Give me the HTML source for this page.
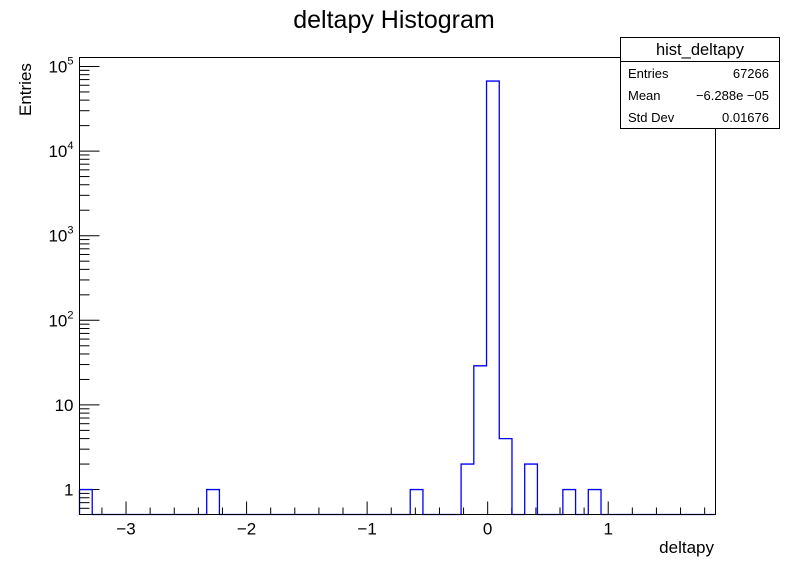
<!DOCTYPE html>
<html><head><meta charset="utf-8"><style>
html,body{margin:0;padding:0;background:#fff;}
svg{display:block;font-family:"Liberation Sans",sans-serif;}
</style></head><body>
<svg id="c" width="796" height="572" xmlns="http://www.w3.org/2000/svg">
<rect width="796" height="572" fill="#fff"/>
<text x="394" y="28" font-size="25" text-anchor="middle">deltapy Histogram</text>
<g id="ax"></g>
<g id="hist"></g>
<rect x="79.5" y="57.5" width="636" height="457" fill="none" stroke="#000" stroke-width="1"/>
<text x="714" y="553" font-size="17" text-anchor="end">deltapy</text>
<text transform="translate(31,116) rotate(-90)" font-size="17">Entries</text>
<g>
<rect x="620.5" y="37.5" width="159" height="91" fill="#fff" stroke="#000"/>
<line x1="620.5" y1="61.5" x2="779.5" y2="61.5" stroke="#000"/>
<text x="700" y="55" font-size="16.5" text-anchor="middle">hist_deltapy</text>
<text x="628" y="78" font-size="13">Entries</text>
<text x="769" y="78" font-size="13" text-anchor="end">67266</text>
<text x="628" y="100" font-size="13">Mean</text>
<text x="769" y="100" font-size="13" text-anchor="end">−6.288e −05</text>
<text x="628" y="122" font-size="13">Std Dev</text>
<text x="769" y="122" font-size="13" text-anchor="end">0.01676</text>
</g>
</svg>
<script>
const xMin=-3.386, xMax=1.89, nBins=50;
const filledBins=[0,10,26,30,31,32,33,35,38,40];
const binCounts=[1,1,1,2,29,67224,4,2,1,1];
const xTickValues=[-3,-2,-1,0,1];
const xTickLabels=["−3","−2","−1","0","1"];
const yDecades=[0,1,2,3,4,5];
const yTickLabels=["1","10","10²","10³","10⁴","10⁵"];

const L=79.5,R=715.5,T=57.5,B=514.5;
const yLo=Math.log10(0.507), yHi=Math.log10(10**5.106);
const sx=v=>L+(v-xMin)/(xMax-xMin)*(R-L);
const sy=v=>B-(Math.log10(v)-yLo)/(yHi-yLo)*(B-T);
const NS="http://www.w3.org/2000/svg";
const ax=document.getElementById('ax'), hg=document.getElementById('hist');
function mk(tag,attrs,parent){const e=document.createElementNS(NS,tag);for(const k in attrs)e.setAttribute(k,attrs[k]);parent.appendChild(e);return e;}

for(let v=-3.4;v<=1.9;v+=0.2){const r=Math.round(v*10)/10;if(r<xMin||r>xMax)continue;
 const major=Math.abs(r-Math.round(r))<1e-6;
 const t=mk('line',{x1:sx(r),x2:sx(r),y1:B,y2:B-(major?13:7),stroke:'#000'},ax);
 
 }
xTickValues.forEach((v,i)=>{const t=mk('text',{x:sx(v),y:B+20,'font-size':17,'text-anchor':'middle'},ax);t.textContent=xTickLabels[i];
 
 });
for(let d=-1;d<=5;d++){for(let m=1;m<=9;m++){const v=m*10**d;const lv=Math.log10(v);if(lv<yLo||lv>yHi)continue;
 const t=mk('line',{x1:L,x2:L+(m===1?20:10),y1:sy(v),y2:sy(v),stroke:'#000'},ax);
 
 }}
yDecades.forEach((d,i)=>{const t=mk('text',{x:L-6,y:sy(10**d)+6,'font-size':17,'text-anchor':'end'},ax);
 const lab=yTickLabels[i];
 if(d>=2){t.textContent='10';const s=mk('tspan',{dy:-8,'font-size':11},t);s.textContent=String(d);}else t.textContent=lab;
 
 });
const bw=(xMax-xMin)/nBins;
const counts=new Array(nBins).fill(0);
filledBins.forEach((b,i)=>counts[b]=binCounts[i]);
const base=B;
const yOf=c=>c>0?Math.max(T,sy(c)):base;
let d=`M${sx(xMin)},${base}`;
for(let i=0;i<nBins;i++){const y=yOf(counts[i]);d+=` L${sx(xMin+i*bw)},${y} L${sx(xMin+(i+1)*bw)},${y}`;}
d+=` L${sx(xMax)},${base}`;
const p=mk('path',{d:d,fill:'none',stroke:'#0000ff','stroke-width':1.3},hg);


</script>
</body></html>
